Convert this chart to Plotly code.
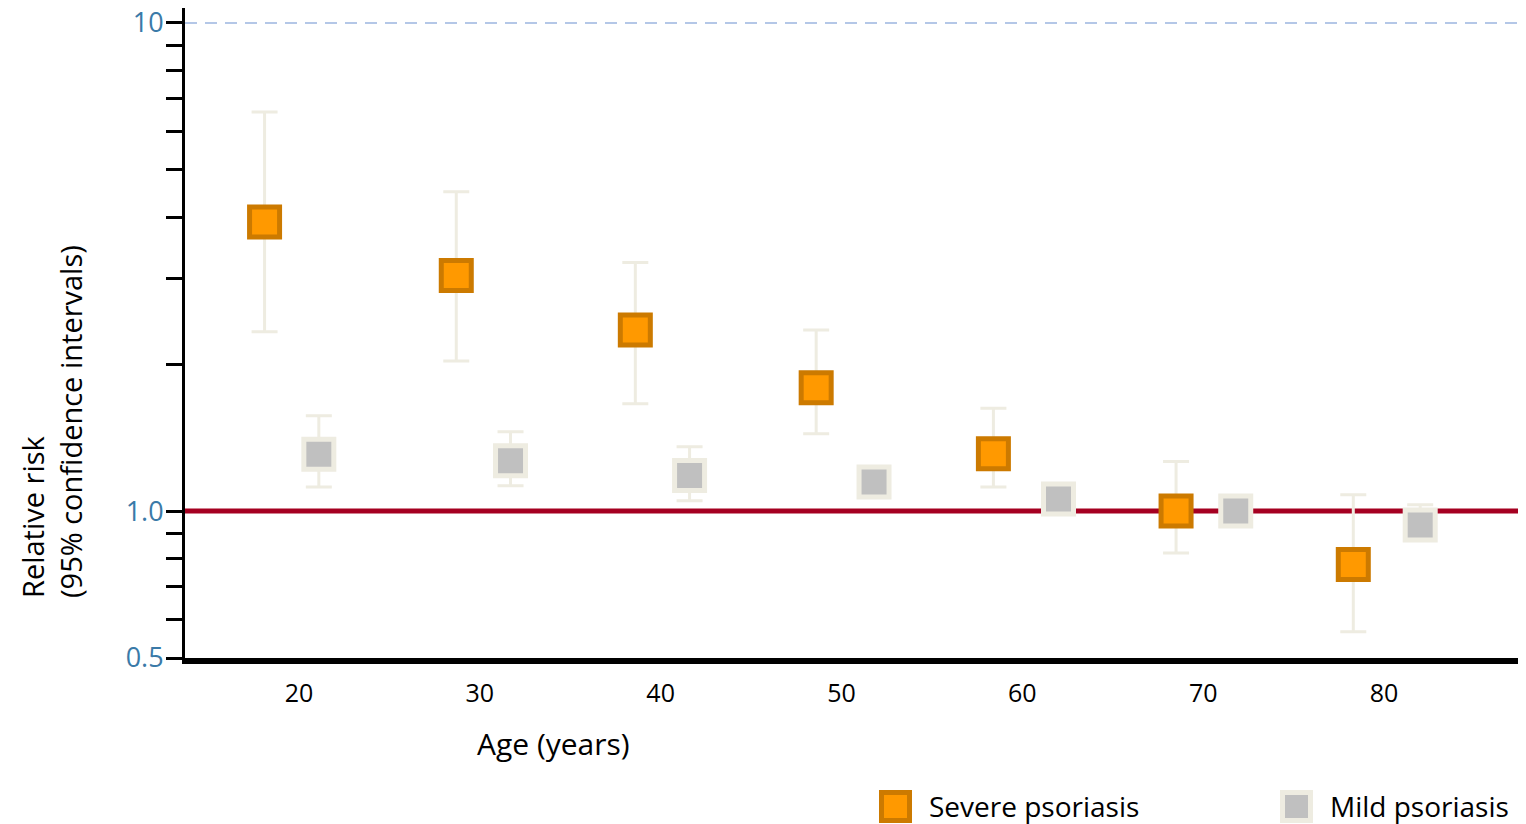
import math
import plotly.graph_objects as go

# ---- data ----
severe_age = [18.1, 28.7, 38.6, 48.6, 58.4, 68.5, 78.3]
severe_rr = [3.91, 3.04, 2.35, 1.79, 1.31, 1.00, 0.777]
severe_lo = [2.33, 2.03, 1.66, 1.44, 1.12, 0.821, 0.566]
severe_hi = [6.57, 4.51, 3.23, 2.35, 1.625, 1.264, 1.08]

mild_age = [21.1, 31.7, 41.6, 51.8, 62.0, 71.8, 82.0]
mild_rr = [1.307, 1.268, 1.183, 1.147, 1.058, 1.00, 0.936]
mild_lo = [1.12, 1.127, 1.05, 1.08, 1.00, 0.95, 0.88]
mild_hi = [1.568, 1.454, 1.354, 1.21, 1.11, 1.06, 1.03]

x_ticks = [20, 30, 40, 50, 60, 70, 80]
y_major = [0.5, 1.0, 10]
y_major_text = ["0.5", "1.0", "10"]
y_minor = [0.6, 0.7, 0.8, 0.9, 2, 3, 4, 5, 6, 7, 8, 9]

series_names = ["Severe psoriasis", "Mild psoriasis"]

# ---- style ----
FONT = "Open Sans"
OFF = 8  # default body margin of the html page
W, H = 1526 - OFF, 824 - OFF
L, R, T, B = 185 - OFF, 0, 8 - OFF, 824 - 658
PW, PH = W - L - R, H - T - B
ERR_COLOR = "#EEECE1"
SEV_FILL, SEV_LINE = "#FF9900", "#CC7A00"
MILD_FILL, MILD_LINE = "#C0C0C0", "#EEECE1"
TICK_BLUE = "#3A7AA8"


def px_x(px):  # page pixel -> paper x
    return (px - 185) / PW


def px_y(py):  # page pixel -> paper y
    return (658 - py) / PH


fig = go.Figure()

for name, xs, ys, lo, hi, fill, line in [
    (series_names[0], severe_age, severe_rr, severe_lo, severe_hi, SEV_FILL, SEV_LINE),
    (series_names[1], mild_age, mild_rr, mild_lo, mild_hi, MILD_FILL, MILD_LINE),
]:
    fig.add_trace(go.Scatter(
        x=xs, y=ys, mode="markers", name=name, showlegend=False,
        marker=dict(symbol="square", size=30, color=fill,
                    line=dict(color=line, width=5)),
        error_y=dict(type="data", symmetric=False,
                     array=[h - v for h, v in zip(hi, ys)],
                     arrayminus=[v - l for l, v in zip(lo, ys)],
                     color=ERR_COLOR, thickness=3, width=13),
    ))

fig.update_layout(
    width=W, height=H,
    margin=dict(l=L, r=R, t=T, b=B, pad=0, autoexpand=False),
    paper_bgcolor="white", plot_bgcolor="white",
    font=dict(family=FONT, color="black"),
    xaxis=dict(
        range=[13.7, 87.85], tickvals=x_ticks, ticktext=[str(v) for v in x_ticks],
        automargin=False,
        showgrid=False, zeroline=False, showline=True, linecolor="black", linewidth=6,
        ticks="", ticklabelstandoff=8, tickfont=dict(size=25, family=FONT, color="black"),
    ),
    yaxis=dict(
        type="log", range=[math.log10(0.5), 1.0307],
        tickvals=y_major, ticktext=y_major_text, ticklabeloverflow="allow",
        ticklabelstandoff=-3, automargin=False,
        showgrid=False, zeroline=False, showline=True, linecolor="black", linewidth=3,
        ticks="outside", ticklen=16, tickwidth=3, tickcolor="black",
        tickfont=dict(size=27, family=FONT, color=TICK_BLUE),
        minor=dict(tickmode="array", tickvals=y_minor, ticks="outside", ticklen=16,
                   tickwidth=3, tickcolor="black", showgrid=False),
    ),
    showlegend=False,
)

# reference lines
fig.add_shape(type="line", xref="paper", yref="y", x0=0, x1=1, y0=1, y1=1,
              line=dict(color="#A50021", width=5), layer="below")
fig.add_shape(type="line", xref="paper", yref="y", x0=0, x1=1, y0=10, y1=10,
              line=dict(color="#B4C7E7", width=2, dash="12px,8px"), layer="below")

# axis titles
fig.add_annotation(xref="paper", yref="paper", x=px_x(553), y=px_y(743),
                   xanchor="center", yanchor="middle",
                   text="Age (years)", showarrow=False,
                   font=dict(size=30, family=FONT, color="black"))
fig.add_annotation(xref="paper", yref="paper", x=px_x(51), y=px_y(422),
                   xanchor="center", yanchor="middle",
                   text="Relative risk<br>(95% confidence intervals)", showarrow=False,
                   textangle=-90, align="left",
                   font=dict(size=29, family=FONT, color="black"))

# legend (swatches + labels)
for name, fill, line, sx, tx in [
    (series_names[0], SEV_FILL, SEV_LINE, 879, 927),
    (series_names[1], MILD_FILL, MILD_LINE, 1280, 1328),
]:
    fig.add_shape(type="rect", xref="paper", yref="paper",
                  x0=px_x(sx + 2.5), x1=px_x(sx + 30.5),
                  y0=px_y(790 + 2.5), y1=px_y(823 - 2.5),
                  fillcolor=fill, line=dict(color=line, width=5))
    fig.add_annotation(xref="paper", yref="paper", x=px_x(tx), y=px_y(806),
                       xanchor="left", yanchor="middle", text=name, showarrow=False,
                       font=dict(size=28, family=FONT, color="black"))

fig.write_html("out.html")
